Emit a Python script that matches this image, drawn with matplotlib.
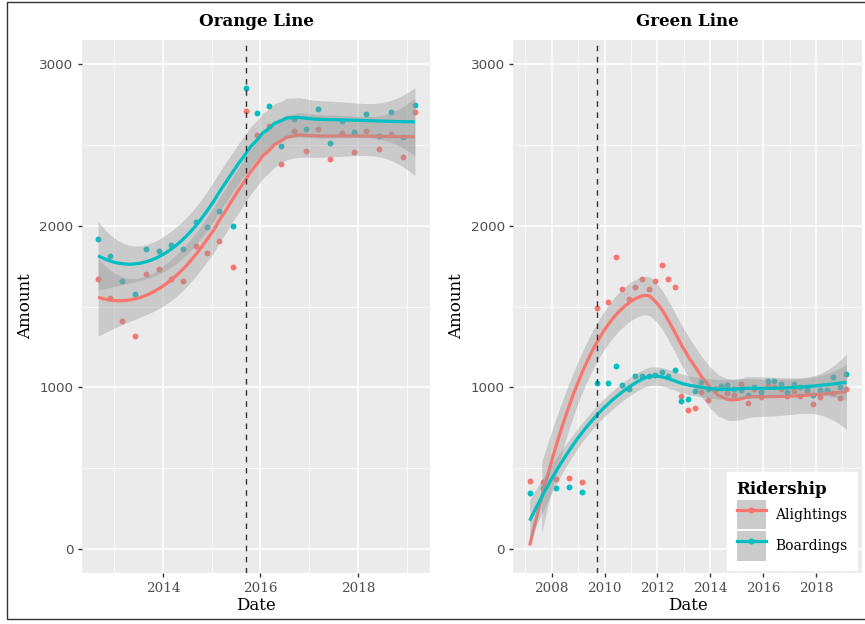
import numpy as np
import matplotlib
matplotlib.use("Agg")
import matplotlib.pyplot as plt
from matplotlib.lines import Line2D
from matplotlib.patches import Patch, Rectangle
from matplotlib.legend_handler import HandlerTuple

# ---------------- data ----------------
orange_date = [2012.67, 2012.92, 2013.16, 2013.42, 2013.66, 2013.92, 2014.16, 2014.42,
               2014.67, 2014.91, 2015.16, 2015.43, 2015.70, 2015.93, 2016.18, 2016.43,
               2016.68, 2016.93, 2017.18, 2017.42, 2017.68, 2017.92, 2018.17, 2018.43,
               2018.68, 2018.92, 2019.17]
orange_board = [1919, 1812, 1655, 1579, 1854, 1843, 1879, 1856, 2025, 1992, 2091, 1998,
                2851, 2698, 2740, 2494, 2659, 2599, 2723, 2512, 2649, 2579, 2692, 2554,
                2704, 2548, 2750]
orange_alight = [1668, 1554, 1410, 1317, 1703, 1730, 1668, 1657, 1874, 1829, 1905, 1744,
                 2709, 2560, 2618, 2384, 2587, 2461, 2597, 2413, 2572, 2459, 2589, 2477,
                 2570, 2426, 2705]

green_date = [2007.17, 2007.66, 2008.16, 2008.67, 2009.16, 2009.70, 2010.15, 2010.42,
              2010.67, 2010.92, 2011.16, 2011.41, 2011.67, 2011.92, 2012.17, 2012.42,
              2012.66, 2012.91, 2013.17, 2013.41, 2013.66, 2013.91, 2014.16, 2014.40,
              2014.65, 2014.90, 2015.16, 2015.41, 2015.66, 2015.91, 2016.17, 2016.42,
              2016.67, 2016.92, 2017.16, 2017.41, 2017.66, 2017.90, 2018.15, 2018.41,
              2018.66, 2018.91, 2019.15]
green_alight = [418, 412, 432, 437, 416, 1488, 1527, 1808, 1608, 1544, 1620, 1668, 1608,
                1655, 1755, 1670, 1618, 947, 858, 870, 972, 920, 984, 997, 963, 955, 1019,
                902, 990, 941, 1013, 1001, 988, 945, 976, 945, 978, 897, 939, 976, 962,
                934, 992]
green_board = [344, 377, 377, 385, 354, 1028, 1028, 1131, 1015, 990, 1067, 1069, 1069,
               1073, 1092, 1067, 1108, 914, 926, 978, 1034, 989, 990, 1007, 1011, 990,
               980, 953, 1001, 968, 1036, 1038, 1019, 972, 1019, 1001, 992, 951, 980, 984,
               1065, 1003, 1079]

panels = ["Orange Line", "Green Line"]
series_names = ["Alightings", "Boardings"]
event_dates = [2015.70, 2009.71]
x_ticks = [[2014, 2016, 2018], [2008, 2010, 2012, 2014, 2016, 2018]]
y_ticks = [0, 1000, 2000, 3000]
y_limits = (0, 3000)

RED = "#F8766D"
TEAL = "#00BFC4"


# ---------------- loess (as in geom_smooth) ----------------
def tquant(df):
    z = 1.959964
    return (z + (z**3 + z) / (4 * df) + (5 * z**5 + 16 * z**3 + 3 * z) / (96 * df**2)
            + (3 * z**7 + 19 * z**5 + 17 * z**3 - 15 * z) / (384 * df**3))


def loess_rows(x, x0s, span=0.75):
    n = len(x)
    q = int(np.floor(n * span))
    rows = []
    for x0 in x0s:
        d = np.abs(x - x0)
        dmax = np.sort(d)[q - 1]
        u = np.clip(d / dmax, 0, 1)
        w = (1 - u**3) ** 3
        X = np.column_stack([np.ones(n), x - x0, (x - x0) ** 2])
        XtW = X.T * w
        A = XtW @ X
        rows.append(np.linalg.solve(A, XtW)[0])
    return np.array(rows)


def loess_fit(x, y, n_out=80):
    x = np.asarray(x, float)
    y = np.asarray(y, float)
    xs = np.linspace(x.min(), x.max(), n_out)
    L = loess_rows(x, x)
    n = len(x)
    IL = np.eye(n) - L
    M = IL.T @ IL
    d1 = np.trace(M)
    d2 = np.trace(M @ M)
    res = y - L @ y
    sigma = np.sqrt(np.sum(res**2) / d1)
    Lo = loess_rows(x, xs)
    fit = Lo @ y
    se = sigma * np.sqrt(np.sum(Lo**2, axis=1))
    t = tquant(d1**2 / d2)
    return xs, fit, fit - t * se, fit + t * se


def censor(v):
    v = np.asarray(v, float).copy()
    v[(v < y_limits[0]) | (v > y_limits[1])] = np.nan
    return v


# ---------------- figure ----------------
W, H = 865, 624
fig = plt.figure(figsize=(W / 100, H / 100), dpi=100)
fig.patches.append(Rectangle((7.5 / W, 5 / H), (W + 10) / W, (622.5 - 5) / H,
                             transform=fig.transFigure, fill=False,
                             edgecolor="#333333", linewidth=1.0))

SERIF = "DejaVu Serif"
SANS = "DejaVu Sans"

ax_px = [(82, 430), (513.3, 862.3)]
top_px, bot_px = 40, 573
xlims = [(2012.34, 2019.48), (2006.55, 2019.75)]
pad = 0.05 * (y_limits[1] - y_limits[0])
ylim = (y_limits[0] - pad, y_limits[1] + pad)

data = [
    (orange_date, orange_alight, orange_board),
    (green_date, green_alight, green_board),
]

for i, (x0p, x1p) in enumerate(ax_px):
    ax = fig.add_axes([x0p / W, (H - bot_px) / H, (x1p - x0p) / W, (bot_px - top_px) / H])
    ax.set_facecolor("#EBEBEB")
    for s in ax.spines.values():
        s.set_visible(False)
    ax.set_xlim(*xlims[i])
    ax.set_ylim(*ylim)
    ax.set_xticks(x_ticks[i])
    ax.set_yticks(y_ticks)
    ax.set_xticks([t + 1 for t in range(x_ticks[i][0] - 2, 2021, 2)
                   if xlims[i][0] < t + 1 < xlims[i][1]], minor=True)
    ax.set_yticks([500, 1500, 2500], minor=True)
    ax.grid(True, which="major", color="white", linewidth=1.1)
    ax.grid(True, which="minor", color="white", linewidth=0.55)
    ax.set_axisbelow(True)
    ax.tick_params(which="major", length=3.2, width=1.0, color="#333333",
                   labelcolor="#4D4D4D", labelsize=9.7, pad=3)
    ax.tick_params(which="minor", length=0)
    for lab in ax.get_xticklabels():
        lab.set_fontfamily(SERIF)
    for lab in ax.get_yticklabels():
        lab.set_fontfamily(SANS)
    ax.set_xlabel("Date", fontfamily=SERIF, fontsize=12, labelpad=2)
    ax.set_ylabel("Amount", fontfamily=SERIF, fontsize=12, labelpad=4)
    ax.set_title(panels[i], fontfamily=SERIF, fontweight="bold", fontsize=12, pad=10)

    xd, ya, yb = data[i]
    xd = np.asarray(xd, float)
    ax.scatter(xd, ya, s=18, color=RED, linewidths=0, zorder=2)
    ax.scatter(xd, yb, s=18, color=TEAL, linewidths=0, zorder=2)
    for k, (yy, col) in enumerate([(ya, RED), (yb, TEAL)]):
        xs, fit, lo, hi = loess_fit(xd, yy)
        lo_c, hi_c = censor(lo), censor(hi)
        ok = ~(np.isnan(lo_c) | np.isnan(hi_c))
        ax.fill_between(xs, lo_c, hi_c, where=ok, color="#999999", alpha=0.4,
                        linewidth=0, zorder=3 + 2 * k)
        ax.plot(xs, censor(fit), color=col, linewidth=2.3, zorder=4 + 2 * k,
                solid_capstyle="butt")
    ax.axvline(event_dates[i], color="#333333", linestyle=(0, (4, 4)), linewidth=1.0, zorder=8)

# legend
handles = [
    (Patch(facecolor="#CBCBCB", edgecolor="none"),
     Line2D([], [], color=RED, linewidth=2.3, marker="o", markersize=3.4)),
    (Patch(facecolor="#CBCBCB", edgecolor="none"),
     Line2D([], [], color=TEAL, linewidth=2.3, marker="o", markersize=3.4)),
]
leg = fig.legend(handles, series_names, title="Ridership",
                 handler_map={tuple: HandlerTuple(ndivide=1, pad=0)},
                 loc="lower right", bbox_to_anchor=(856.7 / W, 54 / H),
                 prop={"family": SERIF, "size": 10},
                 title_fontproperties={"family": SERIF, "weight": "bold", "size": 12},
                 alignment="left", frameon=True, fancybox=False,
                 handlelength=2.15, handleheight=2.85, handletextpad=0.62,
                 labelspacing=0.15, borderpad=0.68, borderaxespad=0)
leg.get_frame().set_facecolor("white")
leg.get_frame().set_edgecolor("white")
leg.get_frame().set_alpha(1.0)

fig.savefig("out.png", dpi=100)
